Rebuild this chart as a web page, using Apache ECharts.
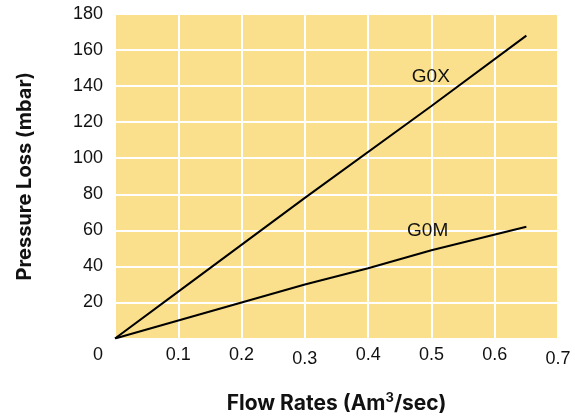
<!DOCTYPE html>
<html>
<head>
<meta charset="utf-8">
<script src="https://cdn.jsdelivr.net/npm/echarts@6/dist/echarts.min.js"></script>
<style>html,body{margin:0;padding:0;background:#fff}#c{width:575px;height:419px}</style>
</head>
<body>
<div id="c"></div>
<script>
// Data
const xTicks = [0, 0.1, 0.2, 0.3, 0.4, 0.5, 0.6, 0.7];
const yTicks = [0, 20, 40, 60, 80, 100, 120, 140, 160, 180];
const seriesNames = ['G0X', 'G0M'];
const g0xFlow = [0, 0.1, 0.3, 0.5, 0.65];
const g0xLoss = [0, 26, 78, 129, 168];
const g0mFlow = [0, 0.1, 0.2, 0.3, 0.4, 0.5, 0.65];
const g0mLoss = [0, 10, 20, 30, 39, 49, 62];
const labelPos = { G0X: [0.499, 145], G0M: [0.494, 60] };

const TICKFONT = '"Liberation Sans", Arial, sans-serif';
const TITLEFONT = 'Inter, "Noto Sans", sans-serif';
const chart = echarts.init(document.getElementById('c'), null, { renderer: 'canvas' });

function pairs(xs, ys) { return xs.map((x, i) => [x, ys[i]]); }

function makeSeries(name, xs, ys) {
  return {
    name: name,
    type: 'line',
    data: pairs(xs, ys),
    symbol: 'none',
    lineStyle: { color: '#000', width: 2 },
    z: 5,
    markPoint: {
      symbol: 'circle', symbolSize: 0,
      data: [{ coord: labelPos[name], value: name }],
      label: { show: true, position: 'inside', color: '#111', fontFamily: TICKFONT, fontSize: 19, formatter: name }
    }
  };
}

chart.setOption({
  backgroundColor: '#fff',
  animation: false,
  grid: { left: 115, top: 14, width: 443, height: 325, backgroundColor: '#FAE08C', show: true, borderWidth: 0 },
  xAxis: {
    type: 'value', min: 0, max: 0.7, interval: 0.1,
    name: 'Flow Rates (Am{sup|3}/sec)', nameLocation: 'middle', nameGap: 53,
    nameTextStyle: { fontFamily: TITLEFONT, fontWeight: 'bold', fontSize: 21, color: '#111',
      rich: { sup: { fontFamily: TITLEFONT, fontWeight: 'bold', fontSize: 13, color: '#111', padding: [0, 0, 11, 0] } } },
    axisLine: { show: false }, axisTick: { show: false },
    splitLine: { show: true, lineStyle: { color: '#fff', width: 2 } },
    axisLabel: {
      margin: 8, fontFamily: TICKFONT, fontSize: 18, color: '#111',
      formatter: function (v) {
        const s = String(Math.round(v * 10) / 10);
        if (v === 0) return '';
        if (s === '0.3' || s === '0.7') return '{low|' + s + '}';
        return s;
      },
      rich: { low: { fontFamily: TICKFONT, fontSize: 18, color: '#111', padding: [4, 0, 0, 0] } }
    }
  },
  yAxis: {
    type: 'value', min: 0, max: 180, interval: 20,
    name: 'Pressure Loss (mbar)', nameLocation: 'middle', nameGap: 80, nameRotate: 90,
    nameTextStyle: { fontFamily: TITLEFONT, fontWeight: 'bold', fontSize: 20, color: '#111' },
    axisLine: { show: false }, axisTick: { show: false },
    splitLine: { show: true, lineStyle: { color: '#fff', width: 2 } },
    axisLabel: {
      margin: 12, fontFamily: TICKFONT, fontSize: 18, color: '#111',
      formatter: function (v) { return v === 0 ? '{zero|0}' : String(v); },
      rich: { zero: { fontFamily: TICKFONT, fontSize: 18, color: '#111', padding: [34, 0, 0, 0] } }
    }
  },
  series: [
    makeSeries(seriesNames[0], g0xFlow, g0xLoss),
    makeSeries(seriesNames[1], g0mFlow, g0mLoss)
  ]
});
</script>
</body>
</html>
